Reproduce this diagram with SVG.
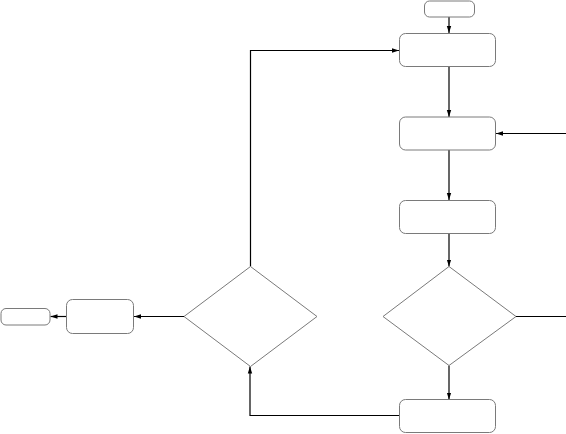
<svg xmlns="http://www.w3.org/2000/svg" width="566" height="434" viewBox="0 0 566 434">
<style>
.n{fill:#fff;stroke:#7a7a7a;stroke-width:1}
.c{fill:none;stroke:#000;stroke-width:1.2}
</style>
<defs>
<marker id="a" markerWidth="8" markerHeight="6" refX="7" refY="3" orient="auto" markerUnits="userSpaceOnUse">
<path d="M0,0.8 L7,3 L0,5.2 Z" fill="#000"/>
</marker>
</defs>
<rect width="566" height="434" fill="#fff"/>
<g id="connectors">
<path class="c" d="M449,17 V33" marker-end="url(#a)"/>
<path class="c" d="M449,67 V117" marker-end="url(#a)"/>
<path class="c" d="M566,133.5 H496" marker-end="url(#a)"/>
<path class="c" d="M449,150 V200" marker-end="url(#a)"/>
<path class="c" d="M449,234 V266.5" marker-end="url(#a)"/>
<path class="c" d="M516,316.5 H566"/>
<path class="c" d="M449,365.5 V399.5" marker-end="url(#a)"/>
<path class="c" d="M399.5,415.5 H250 V366.5" marker-end="url(#a)"/>
<path class="c" d="M250.5,266.5 V50.5 H399" marker-end="url(#a)"/>
<path class="c" d="M184,316.5 H134" marker-end="url(#a)"/>
<path class="c" d="M66.5,316.5 H50.5" marker-end="url(#a)"/>
</g>
<g id="start"><rect class="n" x="424.5" y="1" width="50" height="16" rx="5"/></g>
<g id="box1"><rect class="n" x="399.5" y="33.5" width="96" height="33" rx="6"/></g>
<g id="box2"><rect class="n" x="399.5" y="117" width="96" height="33" rx="6"/></g>
<g id="box3"><rect class="n" x="399.5" y="200.5" width="96" height="33" rx="6"/></g>
<g id="decision1"><polygon class="n" points="449,266.5 516,316.5 449,365.5 383,316.5"/></g>
<g id="box4"><rect class="n" x="399.5" y="399.5" width="96" height="33" rx="6"/></g>
<g id="decision2"><polygon class="n" points="250.5,266.5 317,316.5 250.5,366.5 184,316.5"/></g>
<g id="box5"><rect class="n" x="66.5" y="299.5" width="67" height="34" rx="6"/></g>
<g id="end"><rect class="n" x="1" y="308.5" width="49" height="16.5" rx="5"/></g>
</svg>
